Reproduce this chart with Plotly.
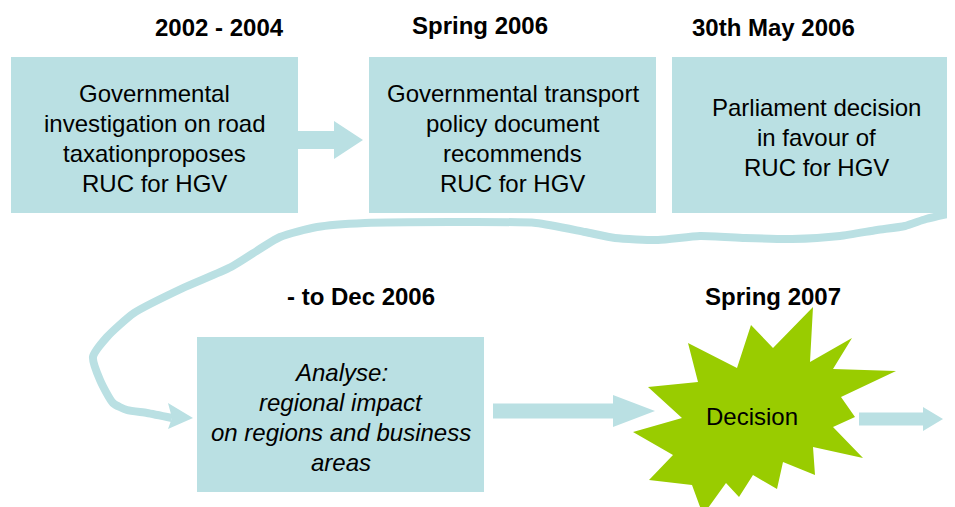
import plotly.graph_objects as go

W, H = 955, 507
OFF = 8  # page body margin that the browser adds
BOX = '#BAE0E3'
GREEN = '#99CC00'

dates = ['2002 - 2004', 'Spring 2006', '30th May 2006', '- to Dec 2006', 'Spring 2007']
box_texts = [
    ['Governmental', 'investigation on road', 'taxationproposes', 'RUC for HGV'],
    ['Governmental transport', 'policy document', 'recommends', 'RUC for HGV'],
    ['Parliament decision', 'in favour of', 'RUC for HGV'],
    ['Analyse:', 'regional impact', 'on regions and business', 'areas'],
]
decision_label = 'Decision'

# layout of the diagram (pixels, y downward)
boxes = [(11, 57, 298, 213), (369, 57, 656, 213), (672, 57, 965, 213), (197, 337, 484, 492)]
date_pos = [(219, 27), (480, 25), (773, 27), (361, 296), (773, 296)]
text_top = [93, 93, 107, 372]
line_gap = 30

curve_x = [952, 926, 905, 877, 840, 792, 745, 700, 658, 615, 585, 536, 450, 365, 317, 280,
           231, 183, 134, 107, 93, 100, 113, 127, 147, 172]
curve_y = [213, 219, 226, 230, 236, 239, 238, 236, 240, 238, 232, 223, 222, 223, 227, 237,
           267, 288, 313, 337, 357, 380, 403, 410, 413, 418]

star = [(813, 307), (810, 362), (852, 338), (833, 369), (896, 371), (841, 397), (855, 417),
        (833, 427), (863, 458), (813, 447), (815, 475), (783, 462), (777, 489), (753, 475),
        (739, 497), (726, 483), (703, 515), (692, 485), (649, 480), (673, 455), (633, 432),
        (682, 418), (648, 387), (698, 382), (688, 343), (737, 368), (751, 325), (773, 348)]


def arrow(x0, x1, xh, yc, shaft, head):
    # block arrow: shaft from x0 to x1, head from x1 to tip xh
    s, h = shaft / 2, head / 2
    return (f'M {x0},{yc - s} L {x1},{yc - s} L {x1},{yc - h} L {xh},{yc} '
            f'L {x1},{yc + h} L {x1},{yc + s} L {x0},{yc + s} Z')


def poly(pts):
    return 'M ' + ' L '.join(f'{x},{y}' for x, y in pts) + ' Z'


fig = go.Figure()

fig.add_trace(go.Scatter(
    x=curve_x, y=curve_y, mode='lines',
    line=dict(color=BOX, width=8, shape='spline', smoothing=0.6),
    hoverinfo='skip', showlegend=False
))

shapes = []
for x0, y0, x1, y1 in boxes:
    shapes.append(dict(type='rect', x0=x0, y0=y0, x1=x1, y1=y1,
                       fillcolor=BOX, line=dict(width=0), layer='below'))

shapes.append(dict(type='path', path=arrow(298, 334, 363, 140, 18, 38),
                   fillcolor=BOX, line=dict(width=0)))
shapes.append(dict(type='path', path=poly([(168, 403), (193, 418), (168, 429), (172, 418)]),
                   fillcolor=BOX, line=dict(width=0)))
shapes.append(dict(type='path', path=arrow(493, 613, 655, 411, 15, 32),
                   fillcolor=BOX, line=dict(width=0)))
shapes.append(dict(type='path', path=arrow(859, 923, 943, 419, 13, 24),
                   fillcolor=BOX, line=dict(width=0)))
shapes.append(dict(type='path', path=poly(star), fillcolor=GREEN, line=dict(width=0)))

FONT = 'Liberation Sans, Arial'
annotations = []
for (x, y), d in zip(date_pos, dates):
    annotations.append(dict(x=x, y=y, text=f'<b>{d}</b>', showarrow=False,
                            font=dict(size=24, color='black', family=FONT)))

for i, lines in enumerate(box_texts):
    x0, y0, x1, y1 = boxes[i]
    cx = (x0 + x1) / 2 if i != 2 else 816
    for j, t in enumerate(lines):
        txt = f'<i>{t}</i>' if i == 3 else t
        annotations.append(dict(x=cx, y=text_top[i] + j * line_gap, text=txt, showarrow=False,
                                font=dict(size=24, color='black', family=FONT)))

annotations.append(dict(x=752, y=416, text=decision_label, showarrow=False,
                        font=dict(size=24, color='black', family=FONT)))

fig.update_layout(
    width=W, height=H,
    margin=dict(l=0, r=0, t=0, b=0),
    paper_bgcolor='white', plot_bgcolor='white',
    xaxis=dict(range=[OFF, W + OFF], visible=False, fixedrange=True),
    yaxis=dict(range=[H + OFF, OFF], visible=False, fixedrange=True),
    shapes=shapes, annotations=annotations,
    showlegend=False
)

fig.write_html('out.html')
